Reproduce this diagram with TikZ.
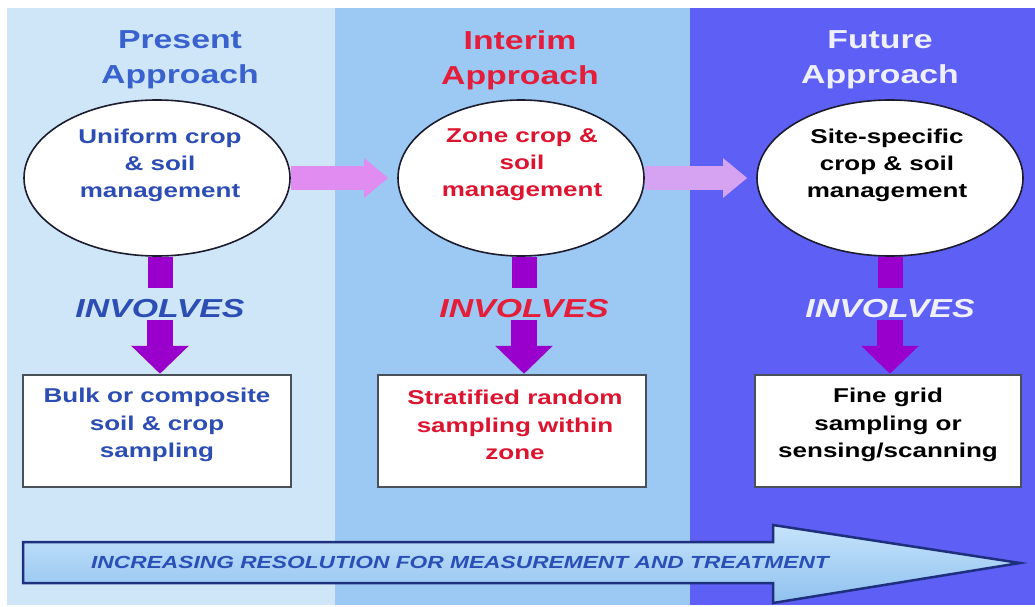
\documentclass[tikz,border=0pt]{standalone}
\usepackage{fontspec}
\setmainfont{Liberation Sans}
\newfontfamily\widesans{Liberation Sans}[FakeStretch=1.3]
\usetikzlibrary{shapes.geometric,arrows.meta}

\definecolor{paneA}{HTML}{CFE6F9}
\definecolor{paneB}{HTML}{9CC9F3}
\definecolor{paneC}{HTML}{5E5FF4}
\definecolor{linkpink}{HTML}{E08CF0}
\definecolor{linklav}{HTML}{D6A2F2}
\definecolor{involvepurple}{HTML}{9A00CC}
\definecolor{presentblue}{HTML}{3A62CE}
\definecolor{interimred}{HTML}{E41E3A}
\definecolor{futurewhite}{HTML}{EEF0FF}
\definecolor{textblue}{HTML}{2C4DB3}
\definecolor{textred}{HTML}{DD1430}
\definecolor{ovaledge}{HTML}{1C1C2E}
\definecolor{boxedge}{HTML}{4A5058}
\definecolor{bandedge}{HTML}{1E2F7E}
\definecolor{bandtop}{HTML}{C6E3FB}
\definecolor{bandbottom}{HTML}{8FC1EF}
\definecolor{bandtext}{HTML}{2A50B8}

\tikzset{
  approach/.style={font=\widesans\bfseries\fontsize{26}{35}\selectfont, align=center, inner sep=0pt},
  oval/.style={ellipse, draw=ovaledge, line width=1.6pt, fill=white, minimum height=156pt, inner sep=0pt},
  ovaltext/.style={font=\widesans\bfseries\fontsize{20}{27}\selectfont, align=center, inner sep=0pt},
  involves/.style={font=\widesans\bfseries\itshape\fontsize{26}{30}\selectfont, inner sep=0pt,
                   text height=29pt, text depth=3pt, anchor=base},
  samplebox/.style={rectangle, draw=boxedge, line width=2.5pt, fill=white, minimum width=268pt, minimum height=112pt, inner sep=0pt},
  boxtext/.style={font=\widesans\bfseries\fontsize{20}{27.5}\selectfont, align=center, inner sep=0pt},
  stem/.style={draw=involvepurple, line width=25pt},
  down/.style={draw=involvepurple, line width=26pt, -{Triangle[width=56pt,length=28pt]}},
  hlink/.style={line width=24pt, -{Triangle[width=38pt,length=24pt]}, shorten >=9pt},
}

\begin{document}
\begin{tikzpicture}[x=1pt,y=-1pt]
\useasboundingbox (0,0) rectangle (1035,607);
\fill[white] (0,0) rectangle (1035,607);

% three background panels
\fill[paneA] (7,8) rectangle (335,605);
\fill[paneB] (335,8) rectangle (690,605);
\fill[paneC] (690,8) rectangle (1035,605);

% panel headings
\node[approach, text=presentblue] (h1) at (180,60) {Present\\Approach};
\node[approach, text=interimred]  (h2) at (520,60) {Interim\\Approach};
\node[approach, text=futurewhite] (h3) at (880,60) {Future\\Approach};

% management ovals
\node[oval, minimum width=266pt] (e1) at (157,178) {};
\node[oval, minimum width=246pt] (e2) at (521,178) {};
\node[oval, minimum width=266pt] (e3) at (890,178) {};
\node[ovaltext, text=textblue] (e1t) at (160,165) {Uniform crop\\\& soil\\management};
\node[ovaltext, text=textred]  (e2t) at (522,165) {Zone crop \&\\soil\\management};
\node[ovaltext, text=black]    (e3t) at (887,165) {Site-specific\\crop \& soil\\management};

% links between ovals
\draw[hlink, linkpink] (e1.east) -- (e2.west);
\draw[hlink, linklav]  (e2.east) -- (e3.west);

% INVOLVES labels
\node[involves, text=textblue]    (i1) at (160,317) {INVOLVES};
\node[involves, text=interimred]  (i2) at (524,317) {INVOLVES};
\node[involves, text=futurewhite] (i3) at (890,317) {INVOLVES};

% sampling boxes
\node[samplebox] (b1) at (157,431) {};
\node[samplebox] (b2) at (512,431) {};
\node[samplebox, minimum width=266pt] (b3) at (888,431) {};
\node[boxtext, text=textblue] (b1t) at (157,425) {Bulk or composite\\soil \& crop\\sampling};
\node[boxtext, text=textred]  (b2t) at (515,425) {Stratified random\\sampling within\\zone};
\node[boxtext, text=black]    (b3t) at (888,425) {Fine grid\\sampling or\\sensing/scanning};

% oval -> INVOLVES -> box
\foreach \k in {1,2,3}{
  \draw[stem] (e\k.south -| i\k.north) -- (i\k.north);
  \draw[down] (i\k.south) -- (i\k.south |- b\k.north);
}

% resolution band arrow
\draw[bandedge, line width=2.5pt, line join=miter, top color=bandtop, bottom color=bandbottom]
  (23,542) -- (773,542) -- (773,525) -- (1020,563) -- (773,603) -- (773,583) -- (23,583) -- cycle;
\node[font=\widesans\bfseries\itshape\fontsize{17.5}{20}\selectfont, text=bandtext, inner sep=0pt] (band) at (460,562)
  {INCREASING RESOLUTION FOR MEASUREMENT AND TREATMENT};
\end{tikzpicture}
\end{document}
